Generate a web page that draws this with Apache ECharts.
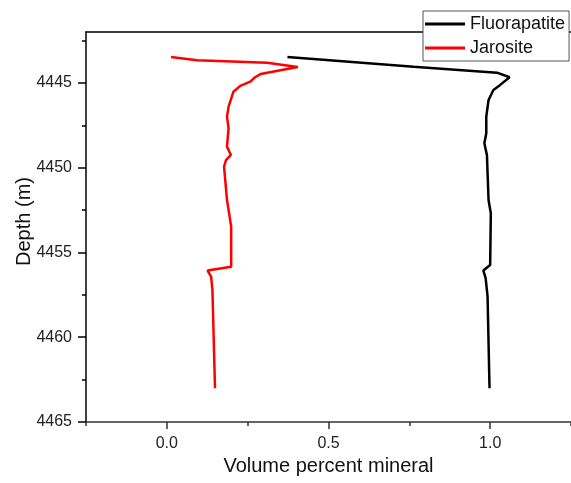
<!DOCTYPE html>
<html>
<head>
<meta charset="utf-8">
<script src="https://cdn.jsdelivr.net/npm/echarts@6/dist/echarts.min.js"></script>
<style>
html,body{margin:0;padding:0;background:#fff;}
#chart{width:571px;height:483px;}
</style>
</head>
<body>
<div id="chart"></div>
<script>
// Fluorapatite: volume fraction vs depth (m)
const fluorX = [0.373, 0.763, 1.021, 1.060, 1.031, 1.010, 0.995, 0.988, 0.988, 0.982, 0.990, 0.995, 1.002, 1.000, 0.979, 0.986, 0.992, 0.998];
const fluorDepth = [4443.47, 4444.05, 4444.40, 4444.67, 4445.12, 4445.42, 4446.01, 4446.99, 4447.97, 4448.56, 4449.25, 4451.91, 4452.69, 4455.74, 4456.07, 4456.52, 4457.61, 4463.01];

// Jarosite: volume fraction vs depth (m)
const jaroX = [0.013, 0.093, 0.310, 0.405, 0.290, 0.273, 0.258, 0.227, 0.206, 0.191, 0.186, 0.191, 0.186, 0.198, 0.183, 0.177, 0.186, 0.199, 0.199, 0.126, 0.137, 0.141, 0.149];
const jaroDepth = [4443.47, 4443.67, 4443.81, 4444.06, 4444.48, 4444.67, 4444.93, 4445.18, 4445.52, 4446.40, 4447.00, 4447.68, 4448.76, 4449.25, 4449.55, 4449.94, 4451.90, 4453.48, 4455.84, 4456.07, 4456.43, 4457.21, 4463.01];

const seriesNames = ['Fluorapatite', 'Jarosite'];
const xMajorTicks = [0, 0.5, 1.0];
const xMinorTicks = [-0.25, 0.25, 0.75, 1.25];
const yMajorTicks = [4445, 4450, 4455, 4460, 4465];
const yMinorTicks = [4442.5, 4447.5, 4452.5, 4457.5, 4462.5];

const FONT = 'Liberation Sans, Arial, Helvetica, sans-serif';
const zip = (xs, ys) => xs.map((v, i) => [v, ys[i]]);

const chart = echarts.init(document.getElementById('chart'), null, {renderer: 'canvas'});
const xRange = {min: -0.25, max: 1.25};
const yRange = {min: 4442, max: 4465};

chart.setOption({
  animation: false,
  backgroundColor: '#fff',
  textStyle: {fontFamily: FONT},
  grid: {left: 86, top: 32, right: 0, bottom: 61, containLabel: false, outerBoundsMode: 'none'},
  legend: {
    data: seriesNames,
    orient: 'vertical',
    left: 423,
    top: 11,
    icon: 'rect',
    itemWidth: 40,
    itemHeight: 3,
    itemGap: 6,
    itemTextGap: 6,
    padding: [4, 4, 4, 2],
    borderColor: '#555',
    borderWidth: 1,
    backgroundColor: '#fff',
    textStyle: {fontSize: 18, color: '#111', fontFamily: FONT}
  },
  xAxis: [
    {
      type: 'value', position: 'bottom', ...xRange, interval: 0.25,
      name: 'Volume percent mineral', nameLocation: 'middle', nameGap: 34, nameMoveOverlap: false,
      nameTextStyle: {fontSize: 20, color: '#111', fontFamily: FONT},
      axisLine: {show: true, onZero: false, lineStyle: {color: '#333', width: 1.5}},
      axisTick: {show: true, customValues: xMajorTicks, length: 7, lineStyle: {color: '#333', width: 1.5}},
      axisLabel: {customValues: xMajorTicks, formatter: v => v.toFixed(1), fontSize: 16, color: '#222', margin: 14, fontFamily: FONT},
      splitLine: {show: false}
    },
    {
      type: 'value', position: 'bottom', ...xRange, interval: 0.25,
      axisLine: {show: false, onZero: false},
      axisTick: {show: true, customValues: xMinorTicks, length: 4, lineStyle: {color: '#333', width: 1.5}},
      axisLabel: {show: false},
      splitLine: {show: false}
    },
    {
      type: 'value', position: 'top', ...xRange, interval: 0.25,
      axisLine: {show: true, onZero: false, lineStyle: {color: '#000', width: 1.5}},
      axisTick: {show: false}, axisLabel: {show: false}, splitLine: {show: false}
    }
  ],
  yAxis: [
    {
      type: 'value', inverse: true, position: 'left', ...yRange,
      name: 'Depth (m)', nameLocation: 'middle', nameGap: 52, nameRotate: 90, nameMoveOverlap: false,
      nameTextStyle: {fontSize: 20, color: '#111', fontFamily: FONT, padding: [0, 0, 0, 11]},
      axisLine: {show: true, onZero: false, lineStyle: {color: '#000', width: 1.5}},
      axisTick: {show: true, customValues: yMajorTicks, length: 8, lineStyle: {color: '#000', width: 1.5}},
      axisLabel: {customValues: yMajorTicks, formatter: v => String(v), fontSize: 16, color: '#222', margin: 14, fontFamily: FONT},
      splitLine: {show: false}
    },
    {
      type: 'value', inverse: true, position: 'left', ...yRange,
      axisLine: {show: false, onZero: false},
      axisTick: {show: true, customValues: yMinorTicks, length: 4, lineStyle: {color: '#000', width: 1.5}},
      axisLabel: {show: false},
      splitLine: {show: false}
    }
  ],
  series: [
    {
      name: seriesNames[0], type: 'line', xAxisIndex: 0, yAxisIndex: 0,
      data: zip(fluorX, fluorDepth), symbol: 'none', showSymbol: false,
      lineStyle: {color: '#000', width: 2.5}, itemStyle: {color: '#000'}, z: 3
    },
    {
      name: seriesNames[1], type: 'line', xAxisIndex: 0, yAxisIndex: 0,
      data: zip(jaroX, jaroDepth), symbol: 'none', showSymbol: false,
      lineStyle: {color: '#ff0000', width: 2.5}, itemStyle: {color: '#ff0000'}, z: 2
    }
  ]
});
</script>
</body>
</html>
